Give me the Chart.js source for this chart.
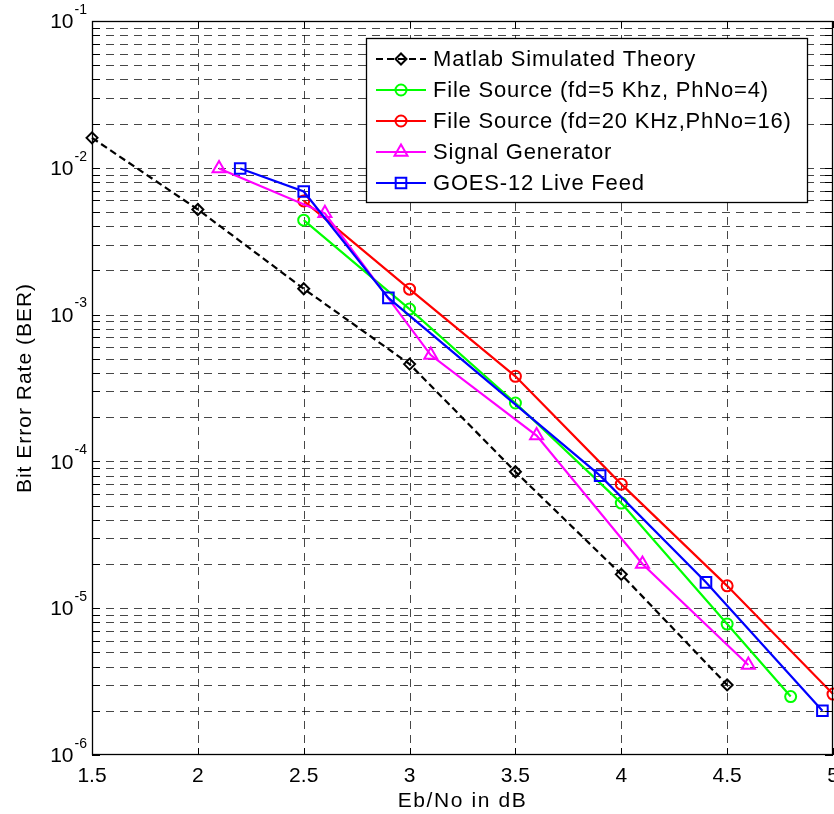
<!DOCTYPE html>
<html>
<head>
<meta charset="utf-8">
<script src="https://cdn.jsdelivr.net/npm/chart.js@4.4.0/dist/chart.umd.min.js"></script>
<style>
html, body { margin: 0; padding: 0; background: #fff; overflow: hidden; }
canvas { display: block; }
</style>
</head>
<body>
<canvas id="c" width="834" height="814"></canvas>
<script>
// values
const ebnoTheory = [1.5, 2, 2.5, 3, 3.5, 4, 4.5];
const berTheory = [1.6e-2, 5.2e-3, 1.5e-3, 4.6e-4, 8.5e-5, 1.7e-5, 3.0e-6];

const ebnoFile5 = [2.5, 3, 3.5, 4, 4.5, 4.8];
const berFile5 = [4.4e-3, 1.09e-3, 2.5e-4, 5.2e-5, 7.8e-6, 2.5e-6];

const ebnoFile20 = [2.5, 3, 3.5, 4, 4.5, 5];
const berFile20 = [5.95e-3, 1.49e-3, 3.8e-4, 7.0e-5, 1.42e-5, 2.6e-6];

const ebnoSigGen = [2.1, 2.6, 3.1, 3.6, 4.1, 4.6];
const berSigGen = [9.9e-3, 4.9e-3, 5.3e-4, 1.5e-4, 2.0e-5, 4.1e-6];

const ebnoGoes = [2.2, 2.5, 2.9, 3.9, 4.4, 4.95];
const berGoes = [9.9e-3, 6.9e-3, 1.3e-3, 8.0e-5, 1.5e-5, 2.0e-6];

const seriesNames = [
  'Matlab Simulated Theory',
  'File Source (fd=5 Khz, PhNo=4)',
  'File Source (fd=20 KHz,PhNo=16)',
  'Signal Generator',
  'GOES-12 Live Feed'
];

const xTicks = [1.5, 2, 2.5, 3, 3.5, 4, 4.5, 5];
const xTickLabels = ['1.5', '2', '2.5', '3', '3.5', '4', '4.5', '5'];
const yExponents = [-6, -5, -4, -3, -2, -1];
const yMantissas = [1, 2, 3, 4, 5, 6, 7, 8, 9];

const xTitle = 'Eb/No in dB';
const yTitle = 'Bit Error Rate (BER)';

function pts(xs, ys) {
  return xs.map(function (x, i) { return { x: x, y: ys[i] }; });
}

const FONT = '"Liberation Sans", Arial, Helvetica, sans-serif';
const clear = 'rgba(0,0,0,0)';

function series(label, xs, ys, color, style, radius, order, dash) {
  return {
    label: label,
    data: pts(xs, ys),
    borderColor: color,
    backgroundColor: clear,
    borderWidth: 2.2,
    borderDash: dash || [],
    pointStyle: style,
    pointRadius: radius,
    pointBorderColor: color,
    pointBackgroundColor: clear,
    pointBorderWidth: 2,
    tension: 0,
    clip: 10,
    order: order
  };
}

const datasets = [
  series(seriesNames[0], ebnoTheory, berTheory, '#000000', 'rectRot', 5.5, 5, [7, 4]),
  series(seriesNames[1], ebnoFile5, berFile5, '#00ff00', 'circle', 5.5, 4),
  series(seriesNames[2], ebnoFile20, berFile20, '#ff0000', 'circle', 5.5, 3),
  series(seriesNames[3], ebnoSigGen, berSigGen, '#ff00ff', 'triangle', 7.5, 2),
  series(seriesNames[4], ebnoGoes, berGoes, '#0000ff', 'rect', 7.5, 1)
];

function yGridValues() {
  const out = [];
  yExponents.forEach(function (e) {
    if (e === yExponents[yExponents.length - 1]) { out.push(Math.pow(10, e)); return; }
    yMantissas.forEach(function (m) { out.push(m * Math.pow(10, e)); });
  });
  return out;
}

// matlab style axes: dashed grid, box, inward ticks, 10^k labels, legend inside
const matlabAxes = {
  id: 'matlabAxes',
  beforeDatasetsDraw: function (chart) {
    const ctx = chart.ctx, a = chart.chartArea;
    const xs = chart.scales.x, ys = chart.scales.y;
    ctx.save();
    ctx.lineWidth = 1;
    ctx.strokeStyle = 'rgba(0,0,0,0.72)';
    ctx.setLineDash([8, 6]);
    xTicks.forEach(function (v) {
      const px = Math.round(xs.getPixelForValue(v)) + 0.5;
      if (px < a.left + 2 || px > a.right - 2) return;
      ctx.beginPath(); ctx.moveTo(px, a.top); ctx.lineTo(px, a.bottom); ctx.stroke();
    });
    yGridValues().forEach(function (v) {
      const py = Math.round(ys.getPixelForValue(v)) + 0.5;
      if (py < a.top + 2 || py > a.bottom - 2) return;
      ctx.beginPath(); ctx.moveTo(a.left, py); ctx.lineTo(a.right, py); ctx.stroke();
    });
    ctx.restore();
  },
  afterDatasetsDraw: function (chart) {
    const ctx = chart.ctx, a = chart.chartArea;
    const xs = chart.scales.x, ys = chart.scales.y;
    ctx.save();
    ctx.setLineDash([]);
    ctx.strokeStyle = '#000';
    ctx.lineWidth = 1.3;
    ctx.strokeRect(a.left + 0.5, a.top + 0.5, a.right - a.left - 1, a.bottom - a.top - 1);

    // inward ticks
    ctx.lineWidth = 1;
    xTicks.forEach(function (v) {
      const px = Math.round(xs.getPixelForValue(v)) + 0.5;
      ctx.beginPath();
      ctx.moveTo(px, a.bottom); ctx.lineTo(px, a.bottom - 7);
      ctx.moveTo(px, a.top); ctx.lineTo(px, a.top + 7);
      ctx.stroke();
    });
    yGridValues().forEach(function (v) {
      const py = Math.round(ys.getPixelForValue(v)) + 0.5;
      ctx.beginPath();
      ctx.moveTo(a.left, py); ctx.lineTo(a.left + 8, py);
      ctx.moveTo(a.right, py); ctx.lineTo(a.right - 8, py);
      ctx.stroke();
    });

    // tick labels
    ctx.fillStyle = '#000';
    ctx.font = '21px ' + FONT;
    ctx.textAlign = 'center';
    ctx.textBaseline = 'middle';
    xTicks.forEach(function (v, i) {
      ctx.fillText(xTickLabels[i], xs.getPixelForValue(v), a.bottom + 21);
    });
    yExponents.forEach(function (e) {
      const py = ys.getPixelForValue(Math.pow(10, e));
      const sup = String(e);
      ctx.font = '14px ' + FONT;
      const sw = ctx.measureText(sup).width;
      ctx.textAlign = 'left';
      ctx.fillText(sup, 87 - sw, py - 11);
      ctx.font = '21px ' + FONT;
      ctx.textAlign = 'right';
      ctx.fillText('10', 87 - sw - 1, py + 1.5);
    });

    // axis titles
    ctx.textAlign = 'center';
    ctx.font = '21px ' + FONT;
    ctx.letterSpacing = '1.6px';
    ctx.fillText(xTitle, (a.left + a.right) / 2, 801);
    ctx.letterSpacing = '1px';
    ctx.save();
    ctx.translate(25, (a.top + a.bottom) / 2);
    ctx.rotate(-Math.PI / 2);
    ctx.fillText(yTitle, 0, 0);
    ctx.restore();

    // legend
    const bx = 366, by = 38, bw = 441, bh = 164;
    ctx.fillStyle = '#fff';
    ctx.fillRect(bx, by, bw, bh);
    ctx.strokeStyle = '#000';
    ctx.lineWidth = 1.3;
    ctx.strokeRect(bx + 0.5, by + 0.5, bw, bh);
    ctx.font = '22px ' + FONT;
    ctx.letterSpacing = '0.8px';
    ctx.textAlign = 'left';
    chart.data.datasets.forEach(function (ds, i) {
      const ry = 59 + i * 31;
      ctx.strokeStyle = ds.borderColor;
      ctx.lineWidth = 2.2;
      ctx.setLineDash(ds.borderDash);
      ctx.beginPath(); ctx.moveTo(376, ry); ctx.lineTo(426, ry); ctx.stroke();
      ctx.setLineDash([]);
      ctx.lineWidth = 2;
      ctx.fillStyle = clear;
      Chart.helpers.drawPoint(ctx, {
        pointStyle: ds.pointStyle, radius: ds.pointRadius, borderWidth: 2, rotation: 0
      }, 401, ry);
      ctx.fillStyle = '#000';
      ctx.fillText(ds.label, 433, ry + 1);
    });
    ctx.restore();
  }
};

new Chart(document.getElementById('c'), {
  type: 'line',
  data: { datasets: datasets },
  options: {
    responsive: false,
    animation: false,
    devicePixelRatio: 1,
    layout: { autoPadding: false, padding: { top: 21, right: 1, left: 0, bottom: 0 } },
    plugins: { legend: { display: false }, tooltip: { enabled: false } },
    scales: {
      x: {
        type: 'linear', min: 1.5, max: 5,
        ticks: { display: false },
        grid: { display: false },
        border: { display: false },
        afterFit: function (s) { s.height = 59; }
      },
      y: {
        type: 'logarithmic', min: 1e-6, max: 1e-1,
        ticks: { display: false },
        grid: { display: false },
        border: { display: false },
        afterFit: function (s) { s.width = 92; }
      }
    }
  },
  plugins: [matlabAxes]
});
</script>
</body>
</html>
